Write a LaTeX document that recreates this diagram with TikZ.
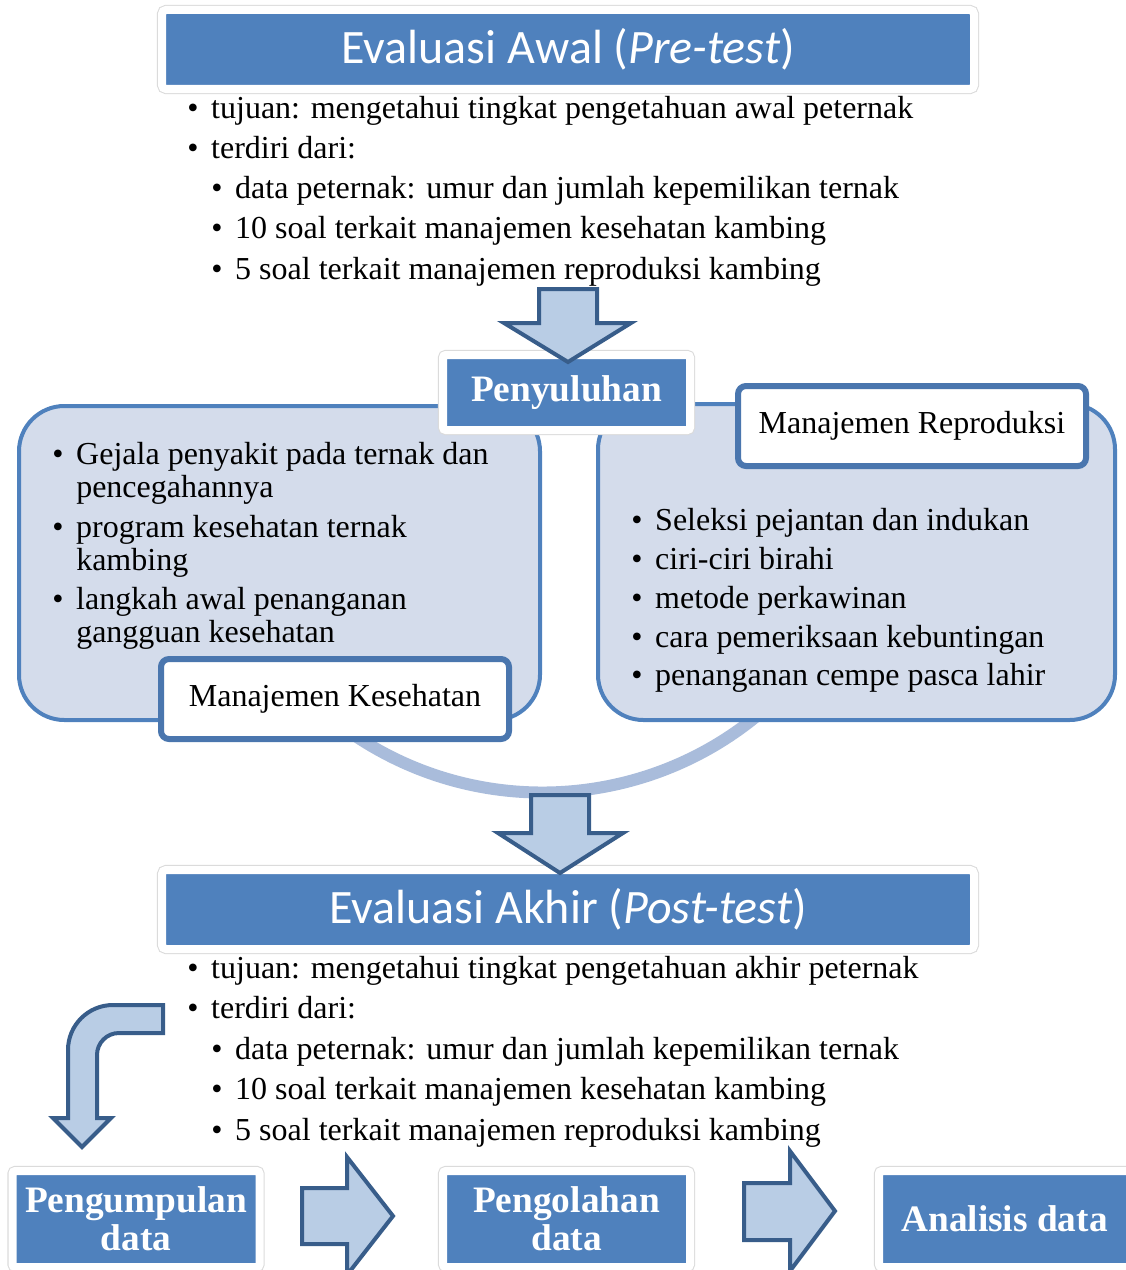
\documentclass[tikz,border=0pt]{standalone}
\usepackage{fontspec}
\setmainfont{Liberation Serif}
\newfontfamily\titlefont{Carlito}
\usetikzlibrary{shadows}
\definecolor{boxblue}{RGB}{79,129,189}
\definecolor{arrowfill}{RGB}{185,205,229}
\definecolor{arrowline}{RGB}{56,93,138}
\definecolor{panelfill}{RGB}{212,220,235}
\definecolor{labelline}{RGB}{74,118,174}
\definecolor{arcblue}{RGB}{169,188,219}
\newcommand{\itembul}{\makebox[18pt][l]{\textbullet}}
\tikzset{
  whiteshadow/.style={preaction={draw=black!14, line width=7.6pt}, drop shadow={opacity=0.18, shadow xshift=1pt, shadow yshift=-1.5pt}},
  titlebox/.style={rectangle, rounded corners=3pt, fill=boxblue, draw=white, line width=6pt, text=white, minimum width=609pt, minimum height=59.25pt, inner sep=0pt, whiteshadow, font=\titlefont\fontsize{36}{42}\selectfont},
  stepbox/.style={rectangle, rounded corners=2pt, fill=boxblue, draw=white, line width=6pt, text=white, minimum width=185.25pt, minimum height=72pt, inner sep=0pt, align=center, whiteshadow, font=\bfseries\fontsize{28}{28.5}\selectfont},
  panel/.style={rectangle, rounded corners=34pt, fill=panelfill, draw=boxblue, line width=3pt, inner sep=0pt},
  labelbox/.style={rectangle, rounded corners=6pt, fill=white, draw=labelline, line width=4.5pt, minimum width=261pt, minimum height=60pt, inner sep=0pt, drop shadow={opacity=0.2, shadow xshift=1pt, shadow yshift=-1.5pt}, font=\fontsize{24}{28}\selectfont},
  item/.style={anchor=base west, inner sep=0pt, align=left, font=\fontsize{24}{24.75}\selectfont},
  blockarrow/.style={fill=arrowfill, draw=arrowline, line width=3pt, line join=miter},
  ring/.style={draw=arcblue, line width=9pt}
}
\begin{document}
\begin{tikzpicture}[x=0.75pt, y=-0.75pt]
  \useasboundingbox (0,0) rectangle (1126,1270);
  % pre-test
  \node[titlebox] (pretest) at (568,49.5) {Evaluasi Awal (\textit{Pre-test})};
  \node[item] (tujuanawal) at (187,118) {\itembul tujuan: mengetahui tingkat pengetahuan awal peternak};
  \node[item] (terdiriawal) at (187,158) {\itembul terdiri dari:};
  \node[item] (dataawal) at (211,198) {\itembul data peternak: umur dan jumlah kepemilikan ternak};
  \node[item] (kesawal) at (211,238) {\itembul 10 soal terkait manajemen kesehatan kambing};
  \node[item] (repawal) at (211,279) {\itembul 5 soal terkait manajemen reproduksi kambing};
  % ring behind the two panels
  \coordinate (ringstart) at (348.7,731.4);
  \draw[ring] (ringstart) arc[start angle=125, end angle=40, radius=338];
  % penyuluhan
  \node[panel, minimum width=390.75pt, minimum height=235.5pt] (kespanel) at (279.5,563) {};
  \node[panel, minimum width=387.75pt, minimum height=237pt] (reppanel) at (856.5,562) {};
  \node[item] (gejala) at (52,497) {\itembul Gejala penyakit pada ternak dan\\\hspace*{18pt}pencegahannya};
  \node[item] (program) at (52,570) {\itembul program kesehatan ternak\\\hspace*{18pt}kambing};
  \node[item] (langkah) at (52,642) {\itembul langkah awal penanganan\\\hspace*{18pt}gangguan kesehatan};
  \node[item] (seleksi) at (631,530) {\itembul Seleksi pejantan dan indukan};
  \node[item] (ciri) at (631,569) {\itembul ciri-ciri birahi};
  \node[item] (metode) at (631,608) {\itembul metode perkawinan};
  \node[item] (cara) at (631,647) {\itembul cara pemeriksaan kebuntingan};
  \node[item] (cempe) at (631,685) {\itembul penanganan cempe pasca lahir};
  \node[labelbox] (kesehatan) at (335,699) {Manajemen Kesehatan};
  \node[labelbox] (reproduksi) at (912,426) {Manajemen Reproduksi};
  \node[stepbox, minimum height=56.25pt] (penyuluhan) at (566.5,392.5) {Penyuluhan};
  \draw[blockarrow] (539,289) -- (597,289) -- (597,323) -- (631,323) -- (568,362) -- (504,323) -- (539,323) -- cycle;
  % post-test
  \node[titlebox] (posttest) at (568,909.5) {Evaluasi Akhir (\textit{Post-test})};
  \draw[blockarrow] (531,795) -- (589,795) -- (589,833) -- (623,833) -- (560,873) -- (498,833) -- (531,833) -- cycle;
  \node[item] (tujuanakhir) at (187,978) {\itembul tujuan: mengetahui tingkat pengetahuan akhir peternak};
  \node[item] (terdiriakhir) at (187,1018) {\itembul terdiri dari:};
  \node[item] (dataakhir) at (211,1059) {\itembul data peternak: umur dan jumlah kepemilikan ternak};
  \node[item] (kesakhir) at (211,1099) {\itembul 10 soal terkait manajemen kesehatan kambing};
  \node[item] (repakhir) at (211,1140) {\itembul 5 soal terkait manajemen reproduksi kambing};
  % data steps
  \draw[blockarrow] (163,1005) -- (113,1005) arc[start angle=270, end angle=180, radius=45] -- (68,1118) -- (53,1118) -- (82,1147) -- (111,1118) -- (97,1118) -- (97,1055) arc[start angle=180, end angle=270, radius=22] -- (163,1033) -- cycle;
  \node[stepbox] (kumpul) at (136,1219) {Pengumpulan\\data};
  \node[stepbox] (olah) at (566.5,1219) {Pengolahan\\data};
  \node[stepbox, minimum width=188.25pt] (analisis) at (1004.5,1219) {Analisis data};
  \draw[blockarrow] (302,1188) -- (347,1188) -- (347,1157) -- (393,1216) -- (347,1275) -- (347,1244) -- (302,1244) -- cycle;
  \draw[blockarrow] (744,1183) -- (790,1183) -- (790,1151) -- (835,1211) -- (790,1271) -- (790,1240) -- (744,1240) -- cycle;
\end{tikzpicture}
\end{document}
